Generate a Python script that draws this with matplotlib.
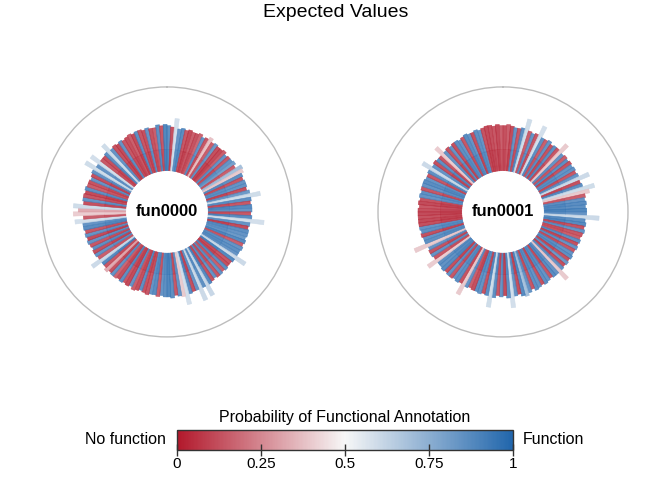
import numpy as np
import matplotlib
matplotlib.use("Agg")
import matplotlib.pyplot as plt
from matplotlib.colors import LinearSegmentedColormap
from matplotlib.cm import ScalarMappable
from matplotlib.colors import Normalize

plt.rcParams['font.family'] = ['Liberation Sans', 'DejaVu Sans']

# one bar per sample, clockwise from the top; probability of functional annotation
fun0000_prob = [
    0.92, 0.06, 0.60, 0.90,  0.93, 0.08, 0.05, 0.10,  0.07, 0.12, 0.90, 0.08,
    0.36, 0.10, 0.88, 0.06,  0.05, 0.10, 0.90, 0.08,  0.90, 0.85, 0.10, 0.72,
    0.38, 0.92, 0.08, 0.90,  0.90, 0.06, 0.88, 0.61,  0.92, 0.08, 0.94, 0.90,
    0.08, 0.93, 0.60, 0.90,  0.05, 0.92, 0.90, 0.88,  0.94, 0.10, 0.90, 0.92,
    0.90, 0.62, 0.95, 0.08,  0.06, 0.92, 0.10, 0.90,  0.08, 0.90, 0.07, 0.94,
    0.63, 0.92, 0.62, 0.90,  0.06, 0.93, 0.60, 0.38,  0.90, 0.08, 0.92, 0.95,
    0.92, 0.90, 0.10, 0.93,  0.90, 0.08, 0.07, 0.92,  0.06, 0.10, 0.90, 0.05,
    0.08, 0.92, 0.06, 0.12,  0.90, 0.07, 0.30, 0.08,  0.94, 0.62, 0.10, 0.90,
    0.06, 0.92, 0.08, 0.90,  0.05, 0.90, 0.08, 0.93,  0.90, 0.60, 0.10, 0.39,
    0.30, 0.61, 0.06, 0.90,  0.08, 0.05, 0.92, 0.10,  0.07, 0.90, 0.06, 0.91,
    0.61, 0.90, 0.60, 0.08,  0.06, 0.92, 0.61, 0.90,  0.07, 0.05, 0.90, 0.08,
    0.06, 0.10, 0.05, 0.92,  0.08, 0.06, 0.90, 0.07,  0.10, 0.92, 0.08, 0.95,
]
fun0000_height = [
    0.36, 0.35, 0.42, 0.34,  0.35, 0.34, 0.35, 0.34,  0.34, 0.35, 0.33, 0.34,
    0.36, 0.33, 0.34, 0.33,  0.33, 0.34, 0.32, 0.33,  0.33, 0.34, 0.32, 0.37,
    0.36, 0.34, 0.33, 0.34,  0.34, 0.33, 0.35, 0.43,  0.35, 0.34, 0.35, 0.35,
    0.34, 0.35, 0.45, 0.34,  0.33, 0.34, 0.34, 0.33,  0.34, 0.33, 0.34, 0.33,
    0.33, 0.42, 0.33, 0.32,  0.32, 0.33, 0.32, 0.33,  0.33, 0.32, 0.33, 0.34,
    0.43, 0.34, 0.44, 0.34,  0.34, 0.35, 0.43, 0.36,  0.35, 0.34, 0.36, 0.35,
    0.35, 0.34, 0.35, 0.34,  0.34, 0.35, 0.34, 0.33,  0.34, 0.35, 0.33, 0.34,
    0.33, 0.34, 0.33, 0.34,  0.34, 0.33, 0.35, 0.33,  0.33, 0.41, 0.33, 0.34,
    0.34, 0.33, 0.34, 0.35,  0.34, 0.35, 0.34, 0.35,  0.35, 0.41, 0.34, 0.42,
    0.38, 0.42, 0.34, 0.35,  0.35, 0.34, 0.35, 0.34,  0.34, 0.33, 0.34, 0.35,
    0.43, 0.34, 0.42, 0.34,  0.34, 0.35, 0.41, 0.34,  0.35, 0.34, 0.35, 0.34,
    0.35, 0.36, 0.35, 0.36,  0.36, 0.35, 0.36, 0.35,  0.35, 0.37, 0.36, 0.37,
]
fun0001_prob = [
    0.06, 0.10, 0.05, 0.90,  0.08, 0.92, 0.61, 0.10,  0.90, 0.08, 0.60, 0.92,
    0.10, 0.90, 0.07, 0.92,  0.08, 0.38, 0.90, 0.10,  0.92, 0.07, 0.90, 0.91,
    0.08, 0.90, 0.62, 0.06,  0.92, 0.61, 0.38, 0.10,  0.90, 0.93, 0.92, 0.95,
    0.90, 0.62, 0.92, 0.94,  0.07, 0.90, 0.08, 0.10,  0.92, 0.06, 0.90, 0.08,
    0.90, 0.92, 0.07, 0.88,  0.06, 0.90, 0.38, 0.90,  0.93, 0.08, 0.90, 0.92,
    0.07, 0.90, 0.92, 0.08,  0.90, 0.72, 0.94, 0.06,  0.90, 0.60, 0.92, 0.05,
    0.90, 0.08, 0.92, 0.61,  0.93, 0.07, 0.90, 0.92,  0.06, 0.10, 0.90, 0.38,
    0.07, 0.92, 0.90, 0.08,  0.90, 0.06, 0.93, 0.91,  0.92, 0.39, 0.08, 0.90,
    0.07, 0.90, 0.38, 0.92,  0.90, 0.06, 0.92, 0.90,  0.06, 0.05, 0.07, 0.05,
    0.06, 0.08, 0.05, 0.07,  0.90, 0.92, 0.08, 0.90,  0.93, 0.90, 0.08, 0.92,
    0.62, 0.90, 0.06, 0.92,  0.08, 0.39, 0.90, 0.07,  0.90, 0.06, 0.92, 0.90,
    0.08, 0.93, 0.90, 0.06,  0.92, 0.90, 0.07, 0.05,  0.06, 0.08, 0.05, 0.10,
]
fun0001_height = [
    0.36, 0.37, 0.36, 0.35,  0.35, 0.36, 0.44, 0.35,  0.34, 0.35, 0.43, 0.34,
    0.34, 0.35, 0.33, 0.34,  0.34, 0.41, 0.33, 0.34,  0.33, 0.34, 0.33, 0.34,
    0.33, 0.34, 0.42, 0.33,  0.34, 0.43, 0.38, 0.34,  0.33, 0.34, 0.33, 0.34,
    0.34, 0.44, 0.33, 0.34,  0.33, 0.34, 0.33, 0.32,  0.33, 0.32, 0.33, 0.32,
    0.32, 0.33, 0.32, 0.33,  0.32, 0.33, 0.41, 0.33,  0.33, 0.32, 0.33, 0.34,
    0.33, 0.34, 0.35, 0.33,  0.35, 0.37, 0.36, 0.34,  0.35, 0.44, 0.36, 0.34,
    0.35, 0.34, 0.36, 0.44,  0.35, 0.34, 0.35, 0.34,  0.34, 0.33, 0.34, 0.42,
    0.33, 0.34, 0.33, 0.34,  0.34, 0.33, 0.34, 0.33,  0.33, 0.41, 0.33, 0.34,
    0.34, 0.33, 0.44, 0.34,  0.34, 0.35, 0.34, 0.35,  0.35, 0.35, 0.35, 0.35,
    0.35, 0.34, 0.35, 0.34,  0.35, 0.34, 0.35, 0.35,  0.35, 0.34, 0.34, 0.35,
    0.42, 0.34, 0.35, 0.34,  0.34, 0.41, 0.34, 0.35,  0.34, 0.35, 0.35, 0.34,
    0.35, 0.36, 0.35, 0.35,  0.36, 0.35, 0.36, 0.37,  0.37, 0.36, 0.37, 0.36,
]
panels = ["fun0000", "fun0001"]
cbar_ticks = [0, 0.25, 0.5, 0.75, 1]
cbar_labels = ["0", "0.25", "0.5", "0.75", "1"]

cmap = LinearSegmentedColormap.from_list("fa", ["#b2182b", "#f7f7f7", "#2166ac"])
hole = 0.33
split = 0.50

fig = plt.figure(figsize=(6.72, 4.8), dpi=100)
fig.text(0.5, 0.974, "Expected Values", ha="center", va="center", fontsize=14)

series = [(fun0000_prob, fun0000_height), (fun0001_prob, fun0001_height)]
lefts = [0.0625, 0.5625]
for name, (prob, height), left in zip(panels, series, lefts):
    ax = fig.add_axes([left, 0.298, 0.372, 0.521], projection="polar")
    ax.set_theta_zero_location("N")
    ax.set_theta_direction(-1)
    n = len(prob)
    theta = np.linspace(0, 2 * np.pi, n, endpoint=False) + np.pi / n
    prob = np.array(prob)
    height = np.array(height)
    colors = cmap(prob)
    w = 2 * np.pi / n * 1.05
    ax.bar(theta, split - hole, bottom=hole, width=w, color=colors,
           alpha=0.9, edgecolor=colors, linewidth=0.4)
    ax.bar(theta, height - (split - hole), bottom=split, width=w, color=colors,
           alpha=0.85, edgecolor=colors, linewidth=0.4)
    ax.set_ylim(0, 1)
    ax.grid(False)
    ax.set_xticks([])
    ax.set_yticks([])
    ax.spines["polar"].set_color("#bdbdbd")
    ax.spines["polar"].set_linewidth(1.0)
    ax.text(0, 0, name, ha="center", va="center", fontsize=12, fontweight="bold")

cax = fig.add_axes([0.2634, 0.0625, 0.5, 0.0417])
cb = fig.colorbar(ScalarMappable(norm=Normalize(0, 1), cmap=cmap), cax=cax,
                  orientation="horizontal")
cb.set_ticks(cbar_ticks)
cb.set_ticklabels(cbar_labels)
cb.outline.set_edgecolor("#333333")
cb.outline.set_linewidth(1.0)
cax.tick_params(direction="inout", length=8, width=1, color="#333333",
                labelsize=11, pad=1)
cax.set_title("Probability of Functional Annotation", fontsize=11.5, pad=6)
fig.text(0.2634 - 0.016, 0.0835, "No function", ha="right", va="center", fontsize=11.5)
fig.text(0.7634 + 0.014, 0.0835, "Function", ha="left", va="center", fontsize=11.5)

fig.savefig("out.png", dpi=100)
